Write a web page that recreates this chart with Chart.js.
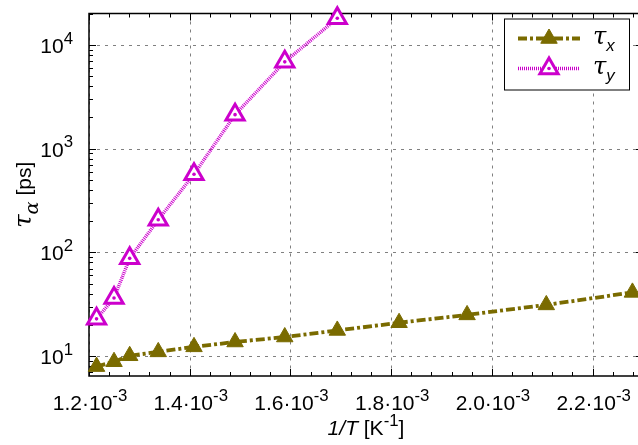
<!DOCTYPE html>
<html>
<head>
<meta charset="utf-8">
<script src="https://cdn.jsdelivr.net/npm/chart.js@4.4.1/dist/chart.umd.min.js"></script>
<style>
  html, body { margin: 0; padding: 0; background: #fff; overflow: hidden; }
  #wrap { width: 660px; height: 445px; }
</style>
</head>
<body>
<div id="wrap"><canvas id="c" width="660" height="445"></canvas></div>
<script>
// ---- data ----
const invT = [1.2150e-3, 1.2497e-3, 1.2808e-3, 1.3375e-3, 1.4085e-3, 1.4900e-3, 1.5887e-3, 1.6930e-3, 1.8157e-3, 1.9507e-3, 2.1080e-3, 2.2790e-3];
const tauX = [7.93, 8.84, 10.09, 11.0, 12.3, 13.7, 15.3, 17.7, 21.0, 25.0, 31.2, 41.2];
const tauY = [22.9, 36.4, 87.7, 206.6, 568, 2128, 6870, 18070];
const seriesLabels = ["τ_{$x$}", "τ_{$y$}"];
const xTickValues = [1.2e-3, 1.4e-3, 1.6e-3, 1.8e-3, 2.0e-3, 2.2e-3];
const xTickLabels = ["1.2·10^{-3}", "1.4·10^{-3}", "1.6·10^{-3}", "1.8·10^{-3}", "2.0·10^{-3}", "2.2·10^{-3}"];
const yTickValues = [10, 100, 1000, 10000];
const yTickLabels = ["10^{1}", "10^{2}", "10^{3}", "10^{4}"];
const xTitle = "$1/T$ [K^{-1}]";
const yTitle = "τ_{α} [ps]";
const xRange = [1.2e-3, 2.3e-3];
const yRange = [6.44, 20100];

const OLIVE = '#7a6b00';
const MAGENTA = '#cc00cc';
const FS = 21;

// ---- rich text helpers ----
function parseRich(str) {
  const runs = []; let italic = false; let level = 0; const stack = []; let buf = '';
  const flush = () => { if (buf) { runs.push({ t: buf, italic, level }); buf = ''; } };
  for (let i = 0; i < str.length; i++) {
    const c = str[i];
    if (c === '$') { flush(); italic = !italic; }
    else if ((c === '^' || c === '_') && str[i + 1] === '{') { flush(); stack.push(level); level = c === '^' ? 1 : -1; i++; }
    else if (c === '}' && stack.length) { flush(); level = stack.pop(); }
    else buf += c;
  }
  flush();
  const out = [];
  runs.forEach(r => {
    let cur = ''; let g = null;
    for (const ch of r.t) {
      const isG = /[\u0370-\u03FF]/.test(ch);
      if (g !== null && isG !== g) { out.push({ ...r, t: cur, greek: g }); cur = ''; }
      g = isG; cur += ch;
    }
    if (cur) out.push({ ...r, t: cur, greek: g });
  });
  return out;
}
function runFont(r, size) {
  let sz = r.level ? size * 0.8 : size;
  if (r.greek) sz *= 1.15;
  const fam = r.greek ? '"DejaVu Serif", "Liberation Serif", serif' : '"Liberation Sans", Arial, sans-serif';
  return ((r.italic || r.greek) ? 'italic ' : '') + sz.toFixed(1) + 'px ' + fam;
}
function drawRich(ctx, str, x, y, size, align) {
  const runs = parseRich(str);
  let total = 0;
  runs.forEach(r => { ctx.font = runFont(r, size); r.w = ctx.measureText(r.t).width; total += r.w; });
  let cx = align === 'center' ? x - total / 2 : align === 'right' ? x - total : x;
  ctx.textAlign = 'left'; ctx.textBaseline = 'alphabetic';
  runs.forEach(r => {
    ctx.font = runFont(r, size);
    const dy = r.level === 1 ? -0.45 * size : r.level === -1 ? 0.35 * size : 0;
    ctx.fillText(r.t, cx, y + dy);
    cx += r.w;
  });
}

// ---- plugin: frame, grid, ticks, labels, legend ----
const decor = {
  id: 'decor',
  beforeDatasetsDraw(chart) {
    const { ctx, chartArea: a, scales: { x, y } } = chart;
    ctx.save();
    ctx.strokeStyle = '#808080'; ctx.lineWidth = 1; ctx.setLineDash([3, 5]);
    xTickValues.forEach(v => { const px = Math.round(x.getPixelForValue(v)) + 0.5; ctx.beginPath(); ctx.moveTo(px, a.top); ctx.lineTo(px, a.bottom); ctx.stroke(); });
    yTickValues.forEach(v => { const py = Math.round(y.getPixelForValue(v)) + 0.5; ctx.beginPath(); ctx.moveTo(a.left, py); ctx.lineTo(a.right, py); ctx.stroke(); });
    ctx.setLineDash([]);
    ctx.strokeStyle = '#000'; ctx.lineWidth = 1;
    const tick = (x1, y1, x2, y2) => { ctx.beginPath(); ctx.moveTo(x1, y1); ctx.lineTo(x2, y2); ctx.stroke(); };
    const step = (xTickValues[1] - xTickValues[0]) / 5;
    for (let k = 0; ; k++) {
      const v = xRange[0] + k * step; if (v > xRange[1] + 1e-12) break;
      const major = k % 5 === 0; const L = major ? 7 : 4;
      const px = Math.round(x.getPixelForValue(v)) + 0.5;
      tick(px, a.bottom, px, a.bottom - L); tick(px, a.top, px, a.top + L);
    }
    for (let d = 0; d <= 4; d++) {
      for (let m = 1; m <= 9; m++) {
        const v = m * Math.pow(10, d); if (v < yRange[0] || v > yRange[1]) continue;
        const L = m === 1 ? 7 : 4; const py = Math.round(y.getPixelForValue(v)) + 0.5;
        tick(a.left, py, a.left + L, py); tick(a.right, py, a.right - L, py);
      }
    }
    ctx.lineWidth = 1.5;
    ctx.strokeRect(a.left, a.top, a.right - a.left, a.bottom - a.top);
    ctx.fillStyle = '#000';
    xTickValues.forEach((v, i) => drawRich(ctx, xTickLabels[i], x.getPixelForValue(v) + 1, a.bottom + 34, FS, 'center'));
    yTickValues.forEach((v, i) => drawRich(ctx, yTickLabels[i], a.left - 16, y.getPixelForValue(v) + 8, FS, 'right'));
    drawRich(ctx, xTitle, (a.left + a.right) / 2, a.bottom + 59, FS, 'center');
    ctx.save();
    ctx.translate(31, (a.top + a.bottom) / 2);
    ctx.rotate(-Math.PI / 2);
    drawRich(ctx, yTitle, 0, 0, FS, 'center');
    ctx.restore();
    ctx.restore();
  },
  afterDatasetsDraw(chart) {
    const { ctx, chartArea: a } = chart;
    ctx.save();
    const meta = chart.getDatasetMeta(1);
    ctx.fillStyle = MAGENTA;
    meta.data.forEach(el => { ctx.beginPath(); ctx.arc(el.x, el.y, 1.8, 0, Math.PI * 2); ctx.fill(); });
    const bx = a.right - 139, by = a.top + 5, bw = 125, bh = 71;
    ctx.fillStyle = '#fff'; ctx.fillRect(bx, by, bw, bh);
    ctx.strokeStyle = '#000'; ctx.lineWidth = 1; ctx.strokeRect(bx + 0.5, by + 0.5, bw, bh);
    chart.data.datasets.forEach((ds, i) => {
      const ly = by + 20 + i * 30;
      const x1 = bx + 14, x2 = bx + 76, xm = (x1 + x2) / 2;
      ctx.strokeStyle = ds.borderColor; ctx.lineWidth = ds.borderWidth; ctx.setLineDash(ds.borderDash);
      ctx.beginPath(); ctx.moveTo(x1, ly); ctx.lineTo(x2, ly); ctx.stroke();
      ctx.setLineDash([]);
      ctx.fillStyle = ds.pointBackgroundColor; ctx.strokeStyle = ds.pointBorderColor; ctx.lineWidth = ds.pointBorderWidth;
      Chart.helpers.drawPoint(ctx, { pointStyle: 'triangle', radius: ds.pointRadius, borderWidth: ds.pointBorderWidth, rotation: 0 }, xm, ly);
      if (i === 1) { ctx.fillStyle = MAGENTA; ctx.beginPath(); ctx.arc(xm, ly, 1.8, 0, Math.PI * 2); ctx.fill(); }
      ctx.fillStyle = '#000';
      drawRich(ctx, ds.label, bx + 89, ly + 5, FS, 'left');
    });
    ctx.restore();
  }
};

new Chart(document.getElementById('c'), {
  type: 'scatter',
  data: {
    datasets: [
      {
        label: seriesLabels[0],
        data: invT.map((v, i) => ({ x: v, y: tauX[i] })),
        showLine: true, borderColor: OLIVE, borderWidth: 3.8, borderDash: [9, 3, 3, 3],
        pointStyle: 'triangle', pointRadius: 9.5, pointBackgroundColor: OLIVE, pointBorderColor: OLIVE, pointBorderWidth: 1,
        clip: false
      },
      {
        label: seriesLabels[1],
        data: tauY.map((v, i) => ({ x: invT[i], y: v })),
        showLine: true, borderColor: MAGENTA, borderWidth: 3.5, borderDash: [1, 1],
        pointStyle: 'triangle', pointRadius: 10.5, pointBackgroundColor: '#fff', pointBorderColor: MAGENTA, pointBorderWidth: 3,
        clip: false
      }
    ]
  },
  options: {
    responsive: false, animation: false, devicePixelRatio: 1,
    layout: { padding: { left: 89, top: 10, right: 17, bottom: 69 } },
    plugins: { legend: { display: false }, tooltip: { enabled: false } },
    scales: {
      x: { type: 'linear', min: xRange[0], max: xRange[1], display: false },
      y: { type: 'logarithmic', min: yRange[0], max: yRange[1], display: false }
    }
  },
  plugins: [decor]
});
</script>
</body>
</html>
